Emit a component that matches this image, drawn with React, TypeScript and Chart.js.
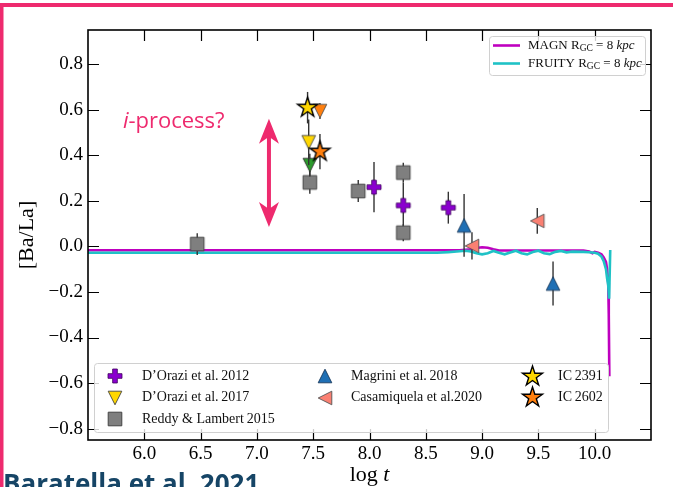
import React, { useEffect, useRef } from "react";
import { Chart, registerables } from "chart.js";

Chart.register(...registerables);

const W = 673;
const H = 487;

// ---- axis ticks ----
const xTickValues = [5.5, 6.0, 6.5, 7.0, 7.5, 8.0, 8.5, 9.0, 9.5, 10.0, 10.5];
const yTickValues = [-0.8, -0.6, -0.4, -0.2, 0.0, 0.2, 0.4, 0.6, 0.8];

// ---- model curves ----
const magnLogT = [5.5, 6.0, 6.5, 7.0, 7.5, 8.0, 8.5, 8.8, 8.9, 8.95, 9.0, 9.05, 9.1, 9.15, 9.3, 9.5, 9.7, 9.9, 9.95, 9.98, 10.0, 10.03, 10.06, 10.08, 10.1, 10.11, 10.12, 10.125, 10.13];
const magnBaLa = [-0.017, -0.017, -0.017, -0.017, -0.017, -0.017, -0.017, -0.017, -0.013, -0.007, -0.004, -0.006, -0.013, -0.018, -0.018, -0.018, -0.018, -0.018, -0.022, -0.03, -0.024, -0.028, -0.035, -0.048, -0.068, -0.1, -0.16, -0.3, -0.57];

const fruityLogT = [5.5, 6.0, 6.5, 7.0, 7.5, 8.0, 8.5, 8.6, 8.7, 8.8, 8.85, 8.9, 8.95, 9.0, 9.05, 9.1, 9.15, 9.2, 9.25, 9.3, 9.35, 9.4, 9.45, 9.5, 9.55, 9.6, 9.65, 9.7, 9.75, 9.8, 9.9, 9.95, 10.0, 10.03, 10.06, 10.08, 10.1, 10.11, 10.12, 10.128, 10.138];
const fruityBaLa = [-0.028, -0.028, -0.028, -0.028, -0.028, -0.028, -0.028, -0.028, -0.025, -0.021, -0.019, -0.022, -0.03, -0.035, -0.03, -0.02, -0.028, -0.035, -0.027, -0.019, -0.03, -0.035, -0.025, -0.019, -0.03, -0.034, -0.024, -0.02, -0.026, -0.023, -0.024, -0.026, -0.028, -0.032, -0.045, -0.065, -0.1, -0.14, -0.17, -0.23, -0.016];

// ---- observations ----
const dorazi2012LogT = [8.04, 8.30, 8.70];
const dorazi2012BaLa = [0.26, 0.18, 0.17];
const dorazi2012Err = [0.11, 0.1, 0.07];

const dorazi2017LogT = [7.46];
const dorazi2017BaLa = [0.457];
const dorazi2017Err = [0.1];

const greenLogT = [7.47];
const greenBaLa = [0.357];
const greenErr = [0.05];

const reddy2015LogT = [6.47, 7.47, 7.90, 8.30, 8.30];
const reddy2015BaLa = [0.01, 0.281, 0.243, 0.324, 0.06];
const reddy2015Err = [0.048, 0.05, 0.048, 0.043, 0.037];

const magrini2018LogT = [8.84, 9.63];
const magrini2018BaLa = [0.092, -0.163];
const magrini2018Err = [0.138, 0.097];

const casamiquela2020LogT = [8.91, 9.49];
const casamiquela2020BaLa = [0.002, 0.112];
const casamiquela2020Err = [0.06, 0.057];

const ic2391LogT = [7.45];
const ic2391BaLa = [0.609];
const ic2391Err = [0.069];

const ic2602LogT = [7.56];
const ic2602BaLa = [0.416];
const ic2602Err = [0.077];

const ic2602TriLogT = [7.56];
const ic2602TriBaLa = [0.594];
const ic2602TriErr = [0.035];

// ---- colours ----
const PINK = "#ee2a6e";
const NAVY = "#164566";
const MAGENTA = "#bf00bf";
const CYAN = "#1fc2c6";

type Shape = "square" | "up" | "down" | "left" | "star" | "plus";

function makeMarker(shape: Shape, r: number, fill: string, stroke: string, lw: number): HTMLCanvasElement {
  const pad = Math.ceil(lw) + 1;
  const s = Math.ceil(2 * r + 2 * pad);
  const c = document.createElement("canvas");
  c.width = s;
  c.height = s;
  const ctx = c.getContext("2d")!;
  ctx.translate(s / 2, s / 2);
  ctx.beginPath();
  if (shape === "square") {
    ctx.rect(-r, -r, 2 * r, 2 * r);
  } else if (shape === "up") {
    ctx.moveTo(0, -r); ctx.lineTo(r, r); ctx.lineTo(-r, r); ctx.closePath();
  } else if (shape === "down") {
    ctx.moveTo(0, r); ctx.lineTo(r, -r); ctx.lineTo(-r, -r); ctx.closePath();
  } else if (shape === "left") {
    ctx.moveTo(-r, 0); ctx.lineTo(r, -r); ctx.lineTo(r, r); ctx.closePath();
  } else if (shape === "star") {
    for (let i = 0; i < 10; i++) {
      const rr = i % 2 === 0 ? r : r * 0.382;
      const a = -Math.PI / 2 + (i * Math.PI) / 5;
      const px = rr * Math.cos(a), py = rr * Math.sin(a);
      if (i === 0) ctx.moveTo(px, py); else ctx.lineTo(px, py);
    }
    ctx.closePath();
  } else if (shape === "plus") {
    const t = r / 3;
    const pts = [[-t, -r], [t, -r], [t, -t], [r, -t], [r, t], [t, t], [t, r], [-t, r], [-t, t], [-r, t], [-r, -t], [-t, -t]];
    pts.forEach(([px, py], i) => (i === 0 ? ctx.moveTo(px, py) : ctx.lineTo(px, py)));
    ctx.closePath();
  }
  ctx.fillStyle = fill;
  ctx.fill();
  ctx.lineWidth = lw;
  ctx.strokeStyle = stroke;
  ctx.lineJoin = "miter";
  ctx.stroke();
  return c;
}

function fmt(v: number): string {
  const s = v.toFixed(1);
  return s.startsWith("-") ? "\u2212" + s.slice(1) : s;
}

function pts(xs: number[], ys: number[]) {
  return xs.map((x, i) => ({ x, y: ys[i] }));
}

export default function App() {
  const ref = useRef<HTMLCanvasElement>(null);

  useEffect(() => {
    document.body.style.margin = "0";
    const canvas = ref.current!;

    const M = {
      plus: makeMarker("plus", 7, "#8b00cf", "#3d005a", 0.8),
      yellowDown: makeMarker("down", 6.8, "#ffd700", "#444", 0.9),
      greenDown: makeMarker("down", 6.8, "#2b9a2b", "#333", 0.9),
      orangeDown: makeMarker("down", 6.8, "#ff7f0e", "#555", 0.9),
      square: makeMarker("square", 6.8, "#7f7f7f", "#444", 1),
      blueUp: makeMarker("up", 6.8, "#1f6fb4", "#1b3a5c", 0.9),
      salmonLeft: makeMarker("left", 6.8, "#fa8072", "#555", 0.9),
      yellowStar: makeMarker("star", 10.5, "#ffd700", "#000", 1.4),
      orangeStar: makeMarker("star", 10.5, "#ff7f0e", "#000", 1.4),
    };

    const scatter = (label: string, xs: number[], ys: number[], err: number[], img: HTMLCanvasElement) => ({
      label,
      data: pts(xs, ys),
      yErr: err,
      pointStyle: img,
      pointRadius: 7,
      showLine: false,
    });

    const datasets: any[] = [
      scatter("IC 2391", ic2391LogT, ic2391BaLa, ic2391Err, M.yellowStar),
      scatter("IC 2602", ic2602LogT, ic2602BaLa, ic2602Err, M.orangeStar),
      scatter("IC 2602 tri", ic2602TriLogT, ic2602TriBaLa, ic2602TriErr, M.orangeDown),
      scatter("D'Orazi 2017", dorazi2017LogT, dorazi2017BaLa, dorazi2017Err, M.yellowDown),
      scatter("green", greenLogT, greenBaLa, greenErr, M.greenDown),
      scatter("Reddy & Lambert 2015", reddy2015LogT, reddy2015BaLa, reddy2015Err, M.square),
      scatter("D'Orazi 2012", dorazi2012LogT, dorazi2012BaLa, dorazi2012Err, M.plus),
      scatter("Casamiquela 2020", casamiquela2020LogT, casamiquela2020BaLa, casamiquela2020Err, M.salmonLeft),
      scatter("Magrini 2018", magrini2018LogT, magrini2018BaLa, magrini2018Err, M.blueUp),
      {
        label: "FRUITY",
        data: pts(fruityLogT, fruityBaLa),
        showLine: true,
        borderColor: CYAN,
        borderWidth: 2.6,
        pointRadius: 0,
        tension: 0,
      },
      {
        label: "MAGN",
        data: pts(magnLogT, magnBaLa),
        showLine: true,
        borderColor: MAGENTA,
        borderWidth: 2.6,
        pointRadius: 0,
        tension: 0,
      },
    ];

    const errPlugin = {
      id: "errbars",
      beforeDatasetDraw(chart: any, args: any) {
        const ds = chart.data.datasets[args.index];
        if (!ds.yErr) return;
        const ctx = chart.ctx;
        const xs = chart.scales.x, ys = chart.scales.y;
        ctx.save();
        ctx.strokeStyle = "#333";
        ctx.lineWidth = 1.4;
        ds.data.forEach((p: any, i: number) => {
          const e = ds.yErr[i];
          const px = xs.getPixelForValue(p.x);
          ctx.beginPath();
          ctx.moveTo(px, ys.getPixelForValue(p.y - e));
          ctx.lineTo(px, ys.getPixelForValue(p.y + e));
          ctx.stroke();
        });
        ctx.restore();
      },
    };

    const SERIF = "'Liberation Serif', 'Times New Roman', serif";

    const roundBox = (ctx: CanvasRenderingContext2D, x: number, y: number, w: number, h: number, r: number) => {
      ctx.beginPath();
      ctx.moveTo(x + r, y);
      ctx.lineTo(x + w - r, y);
      ctx.arcTo(x + w, y, x + w, y + r, r);
      ctx.lineTo(x + w, y + h - r);
      ctx.arcTo(x + w, y + h, x + w - r, y + h, r);
      ctx.lineTo(x + r, y + h);
      ctx.arcTo(x, y + h, x, y + h - r, r);
      ctx.lineTo(x, y + r);
      ctx.arcTo(x, y, x + r, y, r);
      ctx.closePath();
      ctx.fillStyle = "rgba(255,255,255,0.8)";
      ctx.fill();
      ctx.strokeStyle = "#d0d0d0";
      ctx.lineWidth = 1;
      ctx.stroke();
    };

    const segs = (ctx: CanvasRenderingContext2D, x: number, y: number, parts: { t: string; f: string; dy?: number }[]) => {
      let cx = x;
      for (const p of parts) {
        ctx.font = p.f;
        ctx.fillText(p.t, cx, y + (p.dy || 0));
        cx += ctx.measureText(p.t).width;
      }
      return cx;
    };

    const drawImg = (ctx: CanvasRenderingContext2D, img: HTMLCanvasElement, x: number, y: number) => {
      ctx.drawImage(img, Math.round(x - img.width / 2), Math.round(y - img.height / 2));
    };

    const decor = {
      id: "decor",
      afterDatasetsDraw(chart: any) {
        const ctx: CanvasRenderingContext2D = chart.ctx;
        const a = chart.chartArea;
        const sx = chart.scales.x, sy = chart.scales.y;
        ctx.save();

        // ticks (inward) and frame
        const TL = 11;
        ctx.strokeStyle = "#000";
        ctx.lineWidth = 1.2;
        xTickValues.slice(1, -1).forEach((v) => {
          const px = Math.round(sx.getPixelForValue(v)) + 0.5;
          ctx.beginPath();
          ctx.moveTo(px, a.bottom); ctx.lineTo(px, a.bottom - TL);
          ctx.moveTo(px, a.top); ctx.lineTo(px, a.top + TL);
          ctx.stroke();
        });
        yTickValues.forEach((v) => {
          const py = Math.round(sy.getPixelForValue(v)) + 0.5;
          ctx.beginPath();
          ctx.moveTo(a.left, py); ctx.lineTo(a.left + TL, py);
          ctx.moveTo(a.right, py); ctx.lineTo(a.right - TL, py);
          ctx.stroke();
        });
        ctx.lineWidth = 1.6;
        ctx.strokeRect(a.left, a.top, a.right - a.left, a.bottom - a.top);

        // annotation: i-process? and double arrow
        ctx.fillStyle = PINK;
        ctx.textBaseline = "middle";
        ctx.textAlign = "left";
        const tx = sx.getPixelForValue(5.81), ty = sy.getPixelForValue(0.546);
        segs(ctx, tx, ty, [
          { t: "i", f: "italic 22px 'Open Sans', sans-serif" },
          { t: "-process?", f: "22px 'Open Sans', sans-serif" },
        ]);
        const ax = sx.getPixelForValue(7.107);
        const ay1 = sy.getPixelForValue(0.56), ay2 = sy.getPixelForValue(0.085);
        ctx.strokeStyle = PINK;
        ctx.lineWidth = 4;
        ctx.beginPath();
        ctx.moveTo(ax, ay1 + 14); ctx.lineTo(ax, ay2 - 14);
        ctx.stroke();
        const head = (tipY: number, dir: number) => {
          ctx.beginPath();
          ctx.moveTo(ax, tipY);
          ctx.lineTo(ax + 10, tipY + dir * 25);
          ctx.lineTo(ax, tipY + dir * 18);
          ctx.lineTo(ax - 10, tipY + dir * 25);
          ctx.closePath();
          ctx.fill();
        };
        head(ay1, 1);
        head(ay2, -1);

        // legend 1 (models)
        roundBox(ctx, 489.5, 36.5, 156, 39, 3);
        ctx.lineWidth = 2.6;
        const l1rows = [45.5, 63.5];
        [MAGENTA, CYAN].forEach((c, i) => {
          ctx.strokeStyle = c;
          ctx.beginPath();
          ctx.moveTo(493, l1rows[i]); ctx.lineTo(520, l1rows[i]);
          ctx.stroke();
        });
        ctx.fillStyle = "#111";
        ["MAGN", "FRUITY"].forEach((name, i) => {
          segs(ctx, 528, l1rows[i], [
            { t: name + " R", f: `13px ${SERIF}` },
            { t: "GC", f: `9.5px ${SERIF}`, dy: 2.5 },
            { t: " = 8 ", f: `13px ${SERIF}` },
            { t: "kpc", f: `italic 13px ${SERIF}` },
          ]);
        });

        // legend 2 (observations)
        roundBox(ctx, 94.5, 363.5, 514, 69, 3);
        const colM = [115, 325, 532];
        const colT = [142, 351, 558];
        const rows = [376, 397.5, 419];
        const entries: [number, number, HTMLCanvasElement, string][] = [
          [0, 0, M.plus, "D\u2019Orazi et al.\u20092012"],
          [0, 1, M.yellowDown, "D\u2019Orazi et al.\u20092017"],
          [0, 2, M.square, "Reddy & Lambert\u20092015"],
          [1, 0, M.blueUp, "Magrini et al.\u20092018"],
          [1, 1, M.salmonLeft, "Casamiquela et al.2020"],
          [2, 0, M.yellowStar, "IC\u20092391"],
          [2, 1, M.orangeStar, "IC\u20092602"],
        ];
        entries.forEach(([c, r, img, label]) => {
          drawImg(ctx, img, colM[c], rows[r]);
          ctx.fillStyle = "#111";
          ctx.font = `14px ${SERIF}`;
          ctx.fillText(label, colT[c], rows[r]);
        });

        // axis titles
        ctx.fillStyle = "#000";
        ctx.textAlign = "left";
        ctx.textBaseline = "alphabetic";
        ctx.font = `22px ${SERIF}`;
        const w1 = ctx.measureText("log ").width;
        ctx.font = `italic 22px ${SERIF}`;
        const w2 = ctx.measureText("t").width;
        const cx = (a.left + a.right) / 2;
        segs(ctx, cx - (w1 + w2) / 2, 481, [
          { t: "log ", f: `22px ${SERIF}` },
          { t: "t", f: `italic 22px ${SERIF}` },
        ]);
        ctx.save();
        ctx.translate(27, (a.top + a.bottom) / 2);
        ctx.rotate(-Math.PI / 2);
        ctx.textAlign = "center";
        ctx.textBaseline = "middle";
        ctx.font = `22px ${SERIF}`;
        ctx.fillText("[Ba/La]", 0, 0);
        ctx.restore();

        // page decoration
        ctx.fillStyle = PINK;
        ctx.fillRect(0, 3, W, 4);
        ctx.fillRect(0, 3, 3.5, H - 3);
        ctx.fillStyle = NAVY;
        ctx.textAlign = "left";
        ctx.textBaseline = "alphabetic";
        ctx.font = "bold 26px 'Open Sans', 'Liberation Sans', sans-serif";
        ctx.fillText("Baratella et al. 2021", 3, 493);

        ctx.restore();
      },
    };

    const chart = new Chart(canvas, {
      type: "scatter",
      data: { datasets },
      options: {
        animation: false,
        responsive: false,
        devicePixelRatio: 1,
        layout: { padding: { top: 30, right: 22, left: 0, bottom: 0 } },
        plugins: { legend: { display: false }, tooltip: { enabled: false } },
        scales: {
          x: {
            type: "linear",
            min: 5.5,
            max: 10.5,
            afterBuildTicks: (s: any) => {
              s.ticks = xTickValues.map((v) => ({ value: v }));
            },
            afterFit: (s: any) => {
              s.height = 47;
            },
            grid: { display: false, drawTicks: false },
            border: { display: false },
            ticks: {
              autoSkip: false,
              maxRotation: 0,
              padding: 3,
              color: "#000",
              font: { family: SERIF, size: 19 },
              callback: (v: any) => (v === 5.5 || v === 10.5 ? "" : fmt(Number(v))),
            },
          },
          y: {
            type: "linear",
            min: -0.85,
            max: 0.95,
            afterBuildTicks: (s: any) => {
              s.ticks = yTickValues.map((v) => ({ value: v }));
            },
            afterFit: (s: any) => {
              s.width = 88;
            },
            grid: { display: false, drawTicks: false },
            border: { display: false },
            ticks: {
              autoSkip: false,
              padding: 5,
              color: "#000",
              font: { family: SERIF, size: 19 },
              callback: (v: any) => fmt(Number(v)),
            },
          },
        },
      } as any,
      plugins: [errPlugin, decor],
    });

    return () => chart.destroy();
  }, []);

  return (
    <div style={{ width: W, height: H, position: "relative", background: "#fff", overflow: "hidden" }}>
      <canvas ref={ref} width={W} height={H} style={{ display: "block", width: W, height: H }} />
    </div>
  );
}
